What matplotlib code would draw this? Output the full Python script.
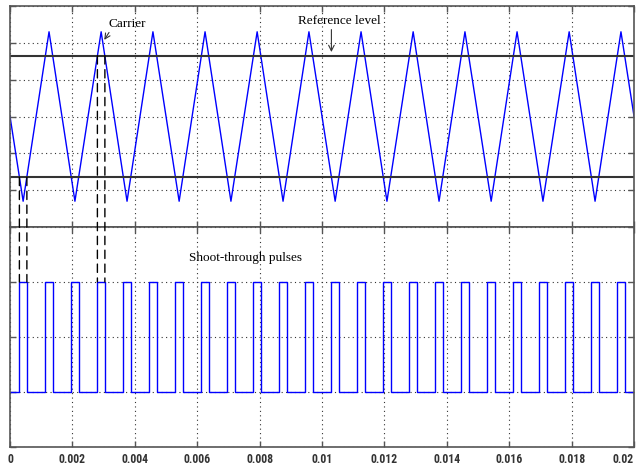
import matplotlib
matplotlib.use('Agg')
import matplotlib.pyplot as plt
from matplotlib.patches import ConnectionPatch
from matplotlib import font_manager
import numpy as np

# carrier triangle: vertex times (s) and values
carrier_t = [0.0, 0.00042, 0.00125, 0.00208, 0.00292, 0.00375, 0.00458, 0.00542,
             0.00625, 0.00708, 0.00792, 0.00875, 0.00958, 0.01042, 0.01125,
             0.01208, 0.01292, 0.01375, 0.01458, 0.01542, 0.01625, 0.01708,
             0.01792, 0.01875, 0.01958, 0.02]
carrier_v = [0.0, -2.3, 2.3, -2.3, 2.3, -2.3, 2.3, -2.3, 2.3, -2.3, 2.3, -2.3,
             2.3, -2.3, 2.3, -2.3, 2.3, -2.3, 2.3, -2.3, 2.3, -2.3, 2.3, -2.3,
             2.3, 0.0]
ref_upper = 1.65
ref_lower = -1.65

# shoot-through pulses: rising / falling edges (s)
pulse_on = [0.00030, 0.00113, 0.00196, 0.00280, 0.00363, 0.00446, 0.00530, 0.00613,
            0.00696, 0.00780, 0.00863, 0.00946, 0.01030, 0.01113, 0.01196, 0.01280,
            0.01363, 0.01446, 0.01530, 0.01613, 0.01696, 0.01780, 0.01863, 0.01946]
pulse_off = [0.00054, 0.00137, 0.00220, 0.00304, 0.00387, 0.00470, 0.00554, 0.00637,
             0.00720, 0.00804, 0.00887, 0.00970, 0.01054, 0.01137, 0.01220, 0.01304,
             0.01387, 0.01470, 0.01554, 0.01637, 0.01720, 0.01804, 0.01887, 0.01970]

xticks = [0, 0.002, 0.004, 0.006, 0.008, 0.01, 0.012, 0.014, 0.016, 0.018, 0.02]
xticklabels = ['0', '0.002', '0.004', '0.006', '0.008', '0.01', '0.012', '0.014',
               '0.016', '0.018', '0.02']

# step waveform from the edges
pt, pv = [0.0], [0]
for a, b in zip(pulse_on, pulse_off):
    pt += [a, a, b, b]
    pv += [0, 1, 1, 0]
pt.append(0.02)
pv.append(0)

names = set(f.name for f in font_manager.fontManager.ttflist)
narrow = None
for cand in ['Liberation Sans Narrow', 'Roboto Condensed', 'Open Sans Condensed']:
    if cand in names:
        narrow = cand
        break
serif = 'Liberation Serif'

fig = plt.figure(figsize=(6.43, 4.65), dpi=100)
ax1 = fig.add_axes([0.0156, 0.5118, 0.9705, 0.4753])
ax2 = fig.add_axes([0.0156, 0.0387, 0.9705, 0.4731])

spine_col = '#555555'
grid_kw = dict(color='#333333', linestyle=(0, (1, 3)), linewidth=0.8)

for ax in (ax1, ax2):
    ax.set_xlim(0, 0.02)
    ax.set_xticks(xticks)
    ax.tick_params(direction='in', top=True, right=True, length=4,
                   color=spine_col, width=1)
    ax.grid(True, **grid_kw)
    for s in ax.spines.values():
        s.set_color(spine_col)
        s.set_linewidth(1.2)

ax1.set_ylim(-3, 3)
ax1.set_yticks([-3, -2, -1, 0, 1, 2, 3])
ax1.set_yticklabels([])
ax1.set_xticklabels([])
ax1.plot(carrier_t, carrier_v, color='#0000ff', lw=1.0)
ax1.axhline(ref_upper, color='#333333', lw=1.5)
ax1.axhline(ref_lower, color='#333333', lw=1.5)

ax2.set_ylim(-0.5, 1.5)
ax2.set_yticks([-0.5, 0, 0.5, 1, 1.5])
ax2.set_yticklabels([])
if narrow:
    labs = ax2.set_xticklabels(xticklabels, fontfamily=narrow, fontsize=8.5,
                               fontweight='bold', color='#333333')
else:
    labs = ax2.set_xticklabels(xticklabels, fontfamily='DejaVu Sans',
                               fontstretch='condensed', fontsize=7.5,
                               color='#222222')
# keep the last label inside the figure
labs[-1].set_horizontalalignment('right')
ax2.tick_params(axis='x', pad=4)
ax2.plot(pt, pv, color='#0000ff', lw=1.0)

# annotations
ax1.annotate('Carrier', xy=(0.00302, 2.08), xytext=(0.00376, 2.52),
             ha='center', va='center', fontfamily=serif, fontsize=9.5,
             arrowprops=dict(arrowstyle='->', color='#333333', lw=0.8,
                             shrinkA=0, shrinkB=0, relpos=(0.1, 0.2)))
ax1.text(0.01056, 2.60, 'Reference level', ha='center', va='center',
         fontfamily=serif, fontsize=9.5)
ax1.annotate('', xy=(0.0103, 1.75), xytext=(0.0103, 2.36),
             arrowprops=dict(arrowstyle='->', color='#333333', lw=0.8,
                             shrinkA=0, shrinkB=0))
ax2.text(0.00754, 1.22, 'Shoot-through pulses', ha='center', va='center',
         fontfamily=serif, fontsize=9.5)

# dashed lines linking reference crossings to pulse edges
for t, lvl in [(pulse_on[0], ref_lower), (pulse_off[0], ref_lower),
               (pulse_on[3], ref_upper), (pulse_off[3], ref_upper)]:
    cp = ConnectionPatch(xyA=(t, lvl), coordsA=ax1.transData,
                         xyB=(t, 1), coordsB=ax2.transData,
                         linestyle=(0, (6, 4)), color='black', lw=1.0)
    fig.add_artist(cp)

plt.savefig('out.png', dpi=100)
